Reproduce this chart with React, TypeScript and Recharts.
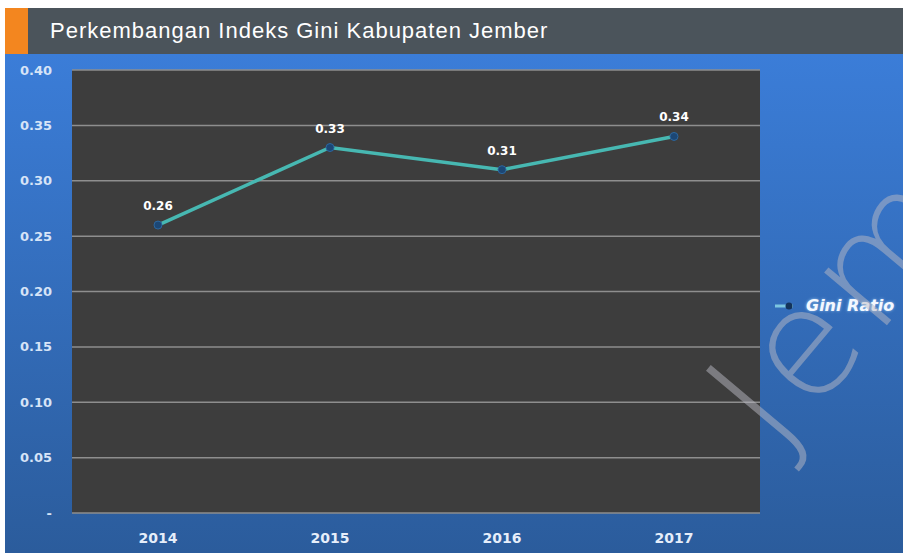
import { LineChart, Line, XAxis, YAxis, CartesianGrid, Legend, LabelList } from "recharts";

const years = ["2014", "2015", "2016", "2017"];
const giniRatio = [0.26, 0.33, 0.31, 0.34];
const yTicks = [0, 0.05, 0.1, 0.15, 0.2, 0.25, 0.3, 0.35, 0.4];

const data = years.map((year, i) => ({ year, gini: giniRatio[i] }));

const fmtY = (v: number) => (v === 0 ? "-" : v.toFixed(2));

function GiniLegend() {
  return (
    <div style={{ width: 143, paddingLeft: 15, boxSizing: "border-box", display: "flex", alignItems: "center", whiteSpace: "nowrap" }}>
      <svg width={30} height={12} style={{ overflow: "visible" }}>
        <line x1={0} y1={6} x2={18} y2={6} stroke="#7cc6e0" strokeWidth={3} />
        <circle cx={14} cy={6} r={3.5} fill="#14335a" />
      </svg>
      <span
        style={{
          fontFamily: "DejaVu Sans",
          fontStyle: "italic",
          fontWeight: "bold",
          fontSize: 16,
          color: "#f4f8ff",
          textShadow: "0 0 3px #9cc8f0",
          marginLeft: 1,
        }}
      >
        Gini Ratio
      </span>
    </div>
  );
}

export default function App() {
  return (
    <div style={{ position: "absolute", left: 0, top: 0, width: 903, height: 553, background: "#fff", overflow: "hidden" }}>
      <div style={{ position: "absolute", left: 5, top: 8, width: 23, height: 46, background: "#f3861f" }} />
      <div style={{ position: "absolute", left: 28, top: 8, right: 0, height: 46, background: "#4b545b" }}>
        <span
          style={{
            position: "absolute",
            left: 22,
            top: 10,
            fontFamily: "Liberation Sans, Arial, sans-serif",
            fontSize: 22,
            letterSpacing: 1,
            color: "#ffffff",
            whiteSpace: "nowrap",
          }}
        >
          Perkembangan Indeks Gini Kabupaten Jember
        </span>
      </div>
      <div
        style={{
          position: "absolute",
          left: 5,
          top: 54,
          right: 0,
          bottom: 0,
          background: "linear-gradient(#3b7dd8, #2b5c9c)",
        }}
      />
      <div style={{ position: "absolute", left: 0, top: 0 }}>
        <LineChart width={903} height={553} data={data} margin={{ top: 70, right: 0, bottom: 0, left: 0 }}>
          <CartesianGrid vertical={false} fill="#3d3d3d" stroke="#8e8e8e" strokeWidth={1.5} />
          <XAxis
            dataKey="year"
            height={40}
            padding={{ left: 86, right: 86 }}
            axisLine={false}
            tickLine={false}
            tickSize={0}
            tickMargin={20}
            tick={{ fill: "#e6eefa", fontSize: 14, fontWeight: "bold", fontFamily: "DejaVu Sans" }}
          />
          <YAxis
            width={72}
            domain={[0, 0.4]}
            ticks={yTicks}
            tickFormatter={fmtY}
            axisLine={false}
            tickLine={false}
            tickSize={0}
            tickMargin={20}
            tick={{ fill: "#d6e4f7", fontSize: 13, fontWeight: "bold", fontFamily: "DejaVu Sans" }}
          />
          <Legend
            layout="vertical"
            align="right"
            verticalAlign="middle"
            content={() => <GiniLegend />}
            wrapperStyle={{ top: 296, right: 0 }}
          />
          <Line
            type="linear"
            dataKey="gini"
            name="Gini Ratio"
            stroke="#47b8b2"
            strokeWidth={3.5}
            dot={{ r: 4, fill: "#1c4775", stroke: "#2c679f", strokeWidth: 1 }}
            isAnimationActive={false}
          >
            <LabelList
              dataKey="gini"
              position="top"
              offset={15}
              formatter={(v: number) => v.toFixed(2)}
              style={{ fill: "#ffffff", fontSize: 12, fontWeight: "bold", fontFamily: "DejaVu Sans" }}
            />
          </Line>
        </LineChart>
      </div>
      <svg width={903} height={553} style={{ position: "absolute", left: 0, top: 0, pointerEvents: "none" }}>
        <text
          x={778}
          y={455}
          transform="rotate(-50 778 455)"
          fontFamily="DejaVu Sans"
          fontWeight={200}
          fontSize={150}
          letterSpacing={8}
          fill="rgba(185,185,195,0.5)"
        >
          Jem
        </text>
      </svg>
    </div>
  );
}
